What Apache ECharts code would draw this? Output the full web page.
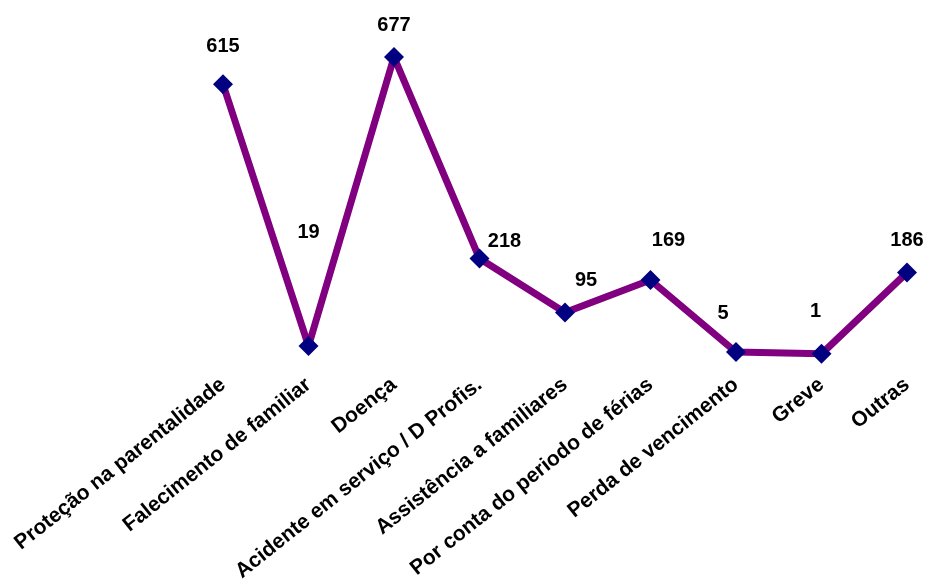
<!DOCTYPE html>
<html>
<head>
<meta charset="utf-8">
<script src="https://cdn.jsdelivr.net/npm/echarts@6/dist/echarts.min.js"></script>
<style>
html,body{margin:0;padding:0;background:#fff;}
#chart{width:928px;height:581px;}
</style>
</head>
<body>
<div id="chart"></div>
<script>
const categories = [
  'Proteção na parentalidade',
  'Falecimento de familiar',
  'Doença',
  'Acidente em serviço / D Profis.',
  'Assistência a familiares',
  'Por conta do periodo de férias',
  'Perda de vencimento',
  'Greve',
  'Outras'
];
const values = [615, 19, 677, 218, 95, 169, 5, 1, 186];

// manual label placement (style only), as in the original chart
const labelOffsets = [[0,-38],[0,-113],[0,-32],[25,-17],[21,-32],[18,-40],[-13,-39],[-6,-42],[0,-32]];

const chart = echarts.init(document.getElementById('chart'));
chart.setOption({
  backgroundColor: '#ffffff',
  animation: false,
  grid: { left: 223, right: 21, top: 3, bottom: 581 - 354.3, containLabel: false, outerBoundsMode: 'none' },
  xAxis: {
    type: 'category',
    data: categories,
    boundaryGap: false,
    axisLine: { show: false },
    axisTick: { show: false },
    axisLabel: {
      interval: 0,
      rotate: 38.5,
      margin: 28,
      color: '#000',
      fontFamily: 'Liberation Sans, Arial, sans-serif',
      fontWeight: 'bold',
      fontSize: 21
    }
  },
  yAxis: {
    type: 'value',
    min: 0,
    max: 800,
    show: false
  },
  series: [{
    type: 'line',
    data: values.map((v, i) => ({
      value: v,
      label: { offset: labelOffsets[i] }
    })),
    lineStyle: { color: '#800080', width: 7 },
    itemStyle: { color: '#000080' },
    symbol: 'diamond',
    symbolSize: 20,
    label: {
      show: true,
      position: 'inside',
      color: '#000',
      fontFamily: 'Liberation Sans, Arial, sans-serif',
      fontWeight: 'bold',
      fontSize: 20
    }
  }]
});
</script>
</body>
</html>
